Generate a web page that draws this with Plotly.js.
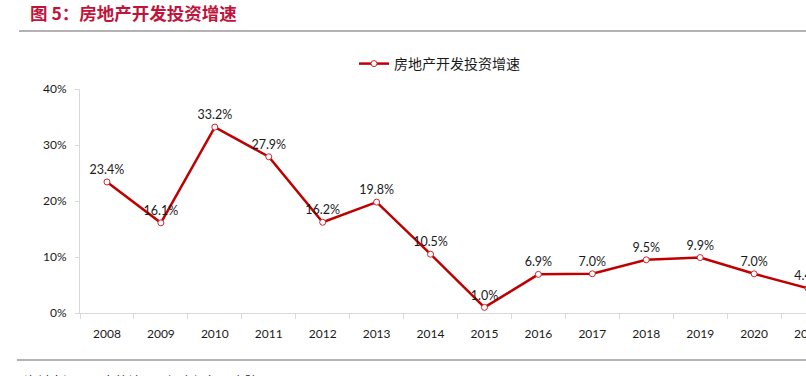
<!DOCTYPE html>
<html>
<head>
<meta charset="utf-8">
<script src="https://cdn.plot.ly/plotly-3.0.1.min.js"></script>
<style>
html,body{margin:0;padding:0;overflow:hidden;background:#fff;}
#chart{width:835px;height:376px;}
</style>
</head>
<body>
<div id="chart"></div>
<script>
const years = ['2008','2009','2010','2011','2012','2013','2014','2015','2016','2017','2018','2019','2020','2021'];
const growth = [23.4, 16.1, 33.2, 27.9, 16.2, 19.8, 10.5, 1.0, 6.9, 7.0, 9.5, 9.9, 7.0, 4.4];
const seriesName = '房地产开发投资增速';
const chartTitle = '图 5：房地产开发投资增速';
const sourceText = '资料来源：国家统计局，招商银行研究院';

const W = 835, H = 376, L = 80, T = 89, B = 63, R = 0;
const pw = W - L - R, ph = H - T - B;
const px = x => (x - L) / pw;
const py = y => (H - B - y) / ph;

const trace = {
  x: years,
  y: growth,
  name: seriesName,
  type: 'scatter',
  mode: 'lines+markers+text',
  line: {color: '#c00000', width: 2.5},
  marker: {symbol: 'circle', size: 6, color: '#ffffff', line: {color: '#d0242b', width: 1}},
  texttemplate: '%{y:.1f}%',
  textposition: 'top center',
  textfont: {family: 'Lato, "DejaVu Sans", sans-serif', size: 12.5, color: '#1a1a1a'},
  cliponaxis: false,
  hoverinfo: 'skip'
};

const layout = {
  width: W, height: H,
  margin: {l: L, r: R, t: T, b: B, pad: 0},
  paper_bgcolor: '#ffffff',
  plot_bgcolor: '#ffffff',
  showlegend: true,
  title: {
    text: chartTitle,
    font: {family: '"Noto Sans CJK SC", sans-serif', size: 17.5, color: '#c0143c', weight: 'bold'},
    xref: 'container', yref: 'container',
    x: 30 / W, xanchor: 'left',
    y: 1 - 14 / H, yanchor: 'middle'
  },
  legend: {
    x: px(354), y: py(64), xanchor: 'left', yanchor: 'middle',
    orientation: 'h',
    font: {family: '"Noto Sans CJK SC", sans-serif', size: 14, color: '#1a1a1a'},
    bgcolor: 'rgba(0,0,0,0)'
  },
  xaxis: {
    type: 'category',
    range: [-0.5, 13.5],
    showline: true, linecolor: '#d9d9d9', linewidth: 1,
    ticks: 'outside', tickson: 'boundaries', ticklen: 5, tickcolor: '#d9d9d9',
    showgrid: false, zeroline: false,
    tickfont: {family: 'Lato, "DejaVu Sans", sans-serif', size: 12, color: '#1a1a1a'},
    ticklabelstandoff: 10,
    fixedrange: true
  },
  yaxis: {
    range: [0, 40],
    dtick: 10,
    ticksuffix: '%',
    showline: true, linecolor: '#d9d9d9', linewidth: 1,
    ticks: 'outside', ticklen: 4, tickcolor: '#d9d9d9',
    showgrid: false, zeroline: false,
    tickfont: {family: 'Lato, "DejaVu Sans", sans-serif', size: 12, color: '#1a1a1a'},
    ticklabelstandoff: 6,
    fixedrange: true
  },
  shapes: [
    {type: 'line', xref: 'paper', yref: 'paper', x0: px(19), x1: px(W), y0: py(31), y1: py(31),
     line: {color: '#9a9a9a', width: 1.5}},
    {type: 'line', xref: 'paper', yref: 'paper', x0: px(17), x1: px(W), y0: py(360), y1: py(360),
     line: {color: '#9a9a9a', width: 1.5}}
  ],
  annotations: [
    {text: sourceText, xref: 'paper', yref: 'paper', x: px(22), y: py(380), xanchor: 'left', yanchor: 'middle',
     showarrow: false, font: {family: '"Noto Sans CJK SC", sans-serif', size: 13, color: '#1a1a1a'}}
  ]
};

Plotly.newPlot('chart', [trace], layout, {displayModeBar: false, staticPlot: true});
</script>
</body>
</html>
